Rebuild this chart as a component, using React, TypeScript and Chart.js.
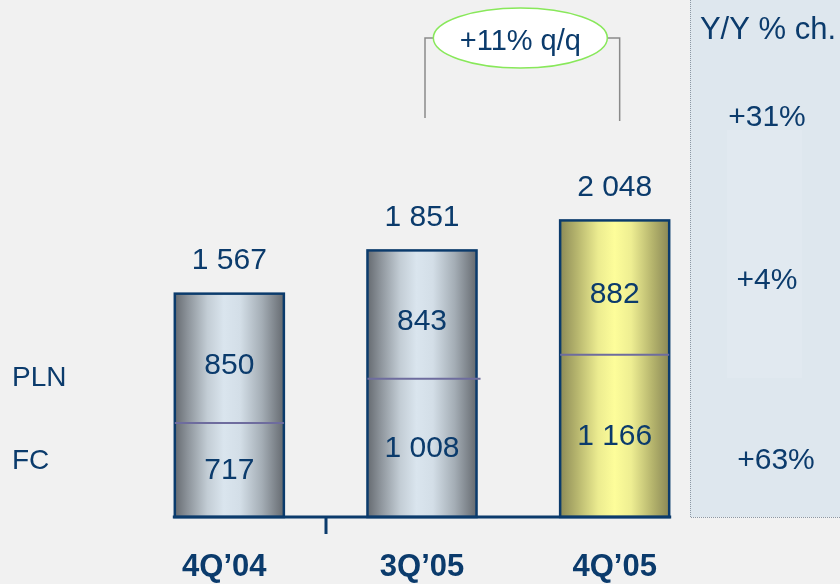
import React, { useEffect, useRef } from "react";
import { Chart, registerables } from "chart.js";

Chart.register(...registerables);

const categories = ["4Q’04", "3Q’05", "4Q’05"];
const seriesNames = ["FC", "PLN"];
const fcValues = [717, 1008, 1166];
const plnValues = [850, 843, 882];
const yoyHeader = "Y/Y % ch.";
const yoyTotal = "+31%";
const yoyPln = "+4%";
const yoyFc = "+63%";
const qoqLabel = "+11% q/q";

const NAVY = "#0b3b6c";
const BAR_PCT = 0.566;
const FONT = "'Liberation Sans', Arial, sans-serif";

const SILVER: [number, string][] = [
  [0, "#666b71"],
  [0.12, "#8d949b"],
  [0.3, "#c3cdd5"],
  [0.45, "#dae5ee"],
  [0.6, "#d3dee7"],
  [0.8, "#a4adb5"],
  [1, "#656a70"],
];
const YELLOW: [number, string][] = [
  [0, "#8d8b57"],
  [0.15, "#b5b46d"],
  [0.35, "#ecec90"],
  [0.5, "#fdfd9a"],
  [0.65, "#eeee92"],
  [0.85, "#b4b36c"],
  [1, "#8a8856"],
];

const fmt = (v: number) =>
  v >= 1000 ? `${Math.floor(v / 1000)} ${String(v % 1000).padStart(3, "0")}` : String(v);

const barFill = (c: any) => {
  const chart = c.chart;
  const ca = chart.chartArea;
  if (!ca) return "#cccccc";
  const cw = ca.width / categories.length;
  const bw = cw * BAR_PCT;
  const cx = chart.scales.x.getPixelForValue(c.dataIndex);
  const stops = c.dataIndex === categories.length - 1 ? YELLOW : SILVER;
  const g = chart.ctx.createLinearGradient(cx - bw / 2, 0, cx + bw / 2, 0);
  stops.forEach(([o, col]) => g.addColorStop(o, col));
  return g;
};

const deco = {
  id: "deco",
  beforeDraw(chart: any) {
    const ctx = chart.ctx;
    ctx.save();
    ctx.fillStyle = "#f1f1f1";
    ctx.fillRect(0, 0, chart.width, chart.height);
    // Y/Y panel
    ctx.fillStyle = "#dee7ee";
    ctx.fillRect(690, -2, 160, 519);
    ctx.fillStyle = "#e1e9f0";
    ctx.fillRect(727, 130, 75, 248);
    ctx.setLineDash([1, 1]);
    ctx.strokeStyle = "#8c98a4";
    ctx.lineWidth = 1;
    ctx.strokeRect(690.5, -2, 160, 519.5);
    ctx.setLineDash([]);
    ctx.restore();
  },
  afterDatasetsDraw(chart: any) {
    const ctx = chart.ctx;
    const ca = chart.chartArea;
    const fcMeta = chart.getDatasetMeta(0).data;
    const plnMeta = chart.getDatasetMeta(1).data;
    ctx.save();
    // bar borders & dividers
    for (let i = 0; i < categories.length; i++) {
      const fc: any = fcMeta[i];
      const pln: any = plnMeta[i];
      const left = fc.x - fc.width / 2;
      const right = fc.x + fc.width / 2;
      const top = pln.y;
      const bottom = ca.bottom;
      ctx.strokeStyle = NAVY;
      ctx.lineWidth = 2.5;
      ctx.strokeRect(left, top, right - left, bottom - top);
      ctx.strokeStyle = "#6e6c9e";
      ctx.lineWidth = 2;
      ctx.beginPath();
      ctx.moveTo(left, fc.y);
      ctx.lineTo(right + (i === 1 ? 4 : 0), fc.y);
      ctx.stroke();

      ctx.fillStyle = NAVY;
      ctx.textAlign = "center";
      ctx.textBaseline = "middle";
      ctx.font = `30px ${FONT}`;
      ctx.fillText(fmt(fcValues[i]), fc.x, (fc.y + bottom) / 2 + 1);
      ctx.fillText(fmt(plnValues[i]), pln.x, (pln.y + fc.y) / 2 + 7);
      ctx.fillText(fmt(fcValues[i] + plnValues[i]), pln.x, top - 33);

      ctx.font = `bold 31px ${FONT}`;
      ctx.fillText(categories[i], fc.x - (i === 0 ? 5 : 0), 567);
    }
    // axis line
    const first: any = fcMeta[0];
    const last: any = fcMeta[categories.length - 1];
    ctx.strokeStyle = NAVY;
    ctx.lineWidth = 3;
    ctx.beginPath();
    ctx.moveTo(first.x - first.width / 2 - 2, ca.bottom);
    ctx.lineTo(last.x + last.width / 2 + 2, ca.bottom);
    ctx.stroke();
    // tick between first and second category
    const tx = Math.round((fcMeta[0].x + fcMeta[1].x) / 2);
    ctx.beginPath();
    ctx.moveTo(tx, ca.bottom);
    ctx.lineTo(tx, ca.bottom + 17);
    ctx.stroke();

    // q/q bracket
    const bx1 = fcMeta[1].x + 3;
    const bx2 = fcMeta[2].x + 5;
    ctx.strokeStyle = "#8a8a8a";
    ctx.lineWidth = 1.5;
    ctx.beginPath();
    ctx.moveTo(bx1, 118);
    ctx.lineTo(bx1, 38);
    ctx.lineTo(bx1 + 12, 38);
    ctx.moveTo(bx2 - 12, 38);
    ctx.lineTo(bx2, 38);
    ctx.lineTo(bx2, 121);
    ctx.stroke();
    const ex = (bx1 + bx2) / 2 - 2;
    ctx.beginPath();
    ctx.ellipse(ex, 38, 87, 30, 0, 0, Math.PI * 2);
    ctx.fillStyle = "#ffffff";
    ctx.fill();
    ctx.strokeStyle = "#88e85a";
    ctx.lineWidth = 1.5;
    ctx.stroke();
    ctx.fillStyle = NAVY;
    ctx.font = `29px ${FONT}`;
    ctx.textAlign = "center";
    ctx.textBaseline = "middle";
    ctx.fillText(qoqLabel, ex, 42);

    // left series labels
    ctx.textAlign = "left";
    ctx.font = `28px ${FONT}`;
    ctx.fillText(seriesNames[1], 12, 378);
    ctx.fillText(seriesNames[0], 12, 461);

    // Y/Y panel texts
    ctx.textAlign = "center";
    ctx.font = `31px ${FONT}`;
    ctx.fillText(yoyHeader, 768, 30);
    ctx.font = `30px ${FONT}`;
    ctx.fillText(yoyTotal, 767, 118);
    ctx.fillText(yoyPln, 767, 281);
    ctx.fillText(yoyFc, 776, 461);
    ctx.restore();
  },
};

export default function App() {
  const ref = useRef<HTMLCanvasElement>(null);
  useEffect(() => {
    document.body.style.margin = "0";
    document.body.style.background = "#f1f1f1";
    const chart = new Chart(ref.current as HTMLCanvasElement, {
      type: "bar",
      data: {
        labels: categories,
        datasets: [
          { label: seriesNames[0], data: fcValues, backgroundColor: barFill, borderWidth: 0 },
          { label: seriesNames[1], data: plnValues, backgroundColor: barFill, borderWidth: 0 },
        ],
      },
      options: {
        responsive: false,
        animation: false,
        events: [],
        layout: { padding: { left: 133, right: 129, top: 10, bottom: 67 } },
        datasets: { bar: { barPercentage: BAR_PCT, categoryPercentage: 1 } },
        plugins: { legend: { display: false }, tooltip: { enabled: false } },
        scales: {
          x: { display: false, stacked: true, offset: true },
          y: { display: false, stacked: true, min: 100, max: 3430 },
        },
      },
      plugins: [deco],
    });
    return () => chart.destroy();
  }, []);
  return (
    <div style={{ position: "absolute", left: 0, top: 0, width: 840, height: 584, background: "#f1f1f1" }}>
      <canvas ref={ref} width={840} height={584} />
    </div>
  );
}
